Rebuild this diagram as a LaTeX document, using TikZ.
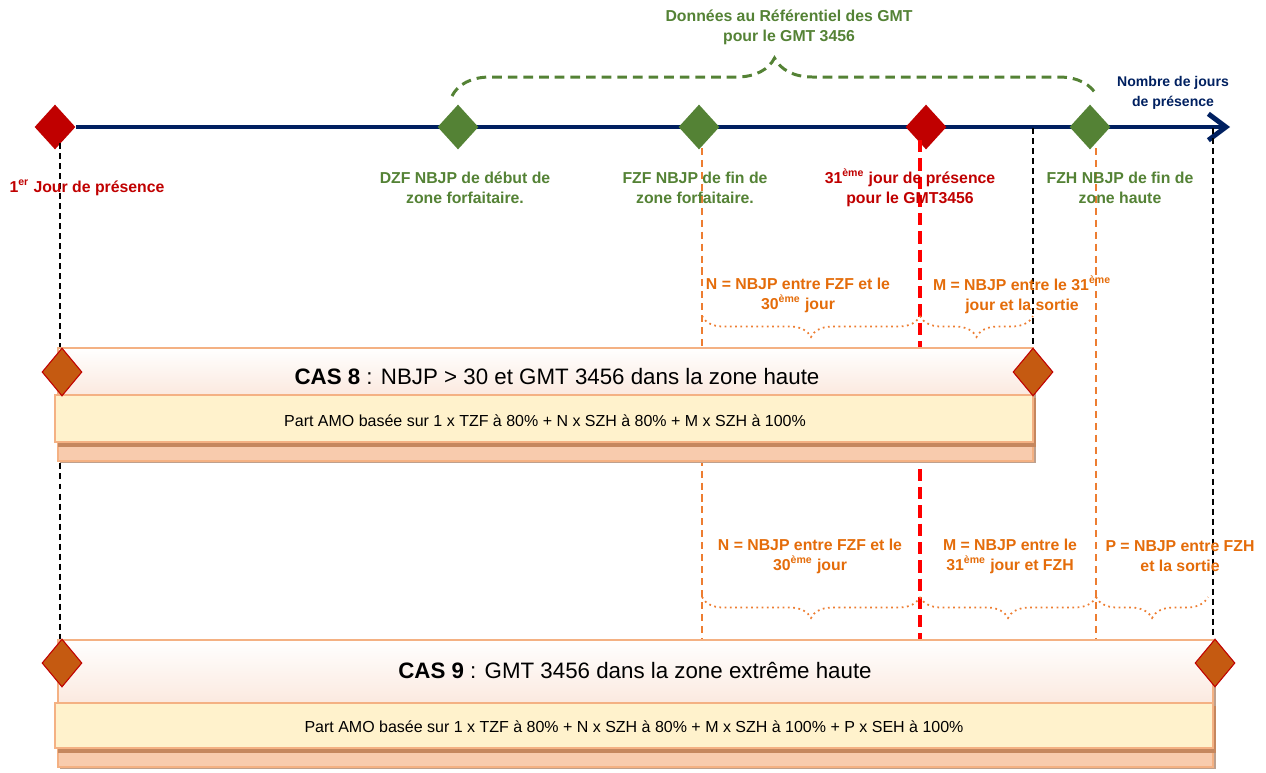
\documentclass[tikz,border=0pt]{standalone}
\usepackage{fontspec}
\setmainfont{Liberation Sans}
\usetikzlibrary{arrows.meta,shapes.geometric,decorations.pathreplacing,positioning,calc}
\definecolor{navy}{HTML}{002060}
\definecolor{jred}{HTML}{C00000}
\definecolor{jgreen}{HTML}{548235}
\definecolor{orangetxt}{HTML}{E46C0A}
\definecolor{orangeline}{HTML}{ED7D31}
\definecolor{casbord}{HTML}{F4B183}
\definecolor{casjaune}{HTML}{FFF2CC}
\definecolor{caspeche}{HTML}{F8CBAD}
\definecolor{casbrun}{HTML}{C5875E}
\definecolor{casombre}{HTML}{BFA08C}
\definecolor{casclair}{HTML}{FBE9DF}
\definecolor{casdiam}{HTML}{C55A11}
\tikzset{
  jalon/.style={diamond, inner sep=0pt, minimum width=0.82cm, minimum height=0.9cm},
  jrouge/.style={jalon, fill=jred},
  jvert/.style={jalon, fill=jgreen},
  jcas/.style={diamond, inner sep=0pt, minimum width=0.8cm, minimum height=0.96cm,
    fill=casdiam, draw=jred, line width=0.6pt},
  lbl/.style={font=\bfseries\fontsize{9}{11.3}\selectfont, align=center},
  castitre/.style={font=\fontsize{12.7}{14}\selectfont},
  casdetail/.style={font=\fontsize{9.1}{10}\selectfont},
  vnoir/.style={black, line width=1.1pt, dash pattern=on 3.4pt off 2.3pt},
  vorange/.style={orangeline, line width=1pt, dash pattern=on 4pt off 2.8pt},
  vrouge/.style={red, line width=1.8pt, dash pattern=on 7pt off 3.4pt},
  accol/.style={decorate, decoration={brace, mirror, amplitude=0.42cm},
    orangeline, dotted, line width=1pt},
}

\begin{document}
\begin{tikzpicture}[x=0.02cm, y=-0.02cm]
  \useasboundingbox (0,0) rectangle (1266,772);
  % axe des jours
  \node[jrouge] (d1) at (55,127) {};
  \coordinate (axend) at (1230,127);
  \draw[navy, line width=2.8pt, -{Straight Barb[length=10pt, width=15pt]}]
    (d1.east) -- (axend);
  \node[jvert] (dzf) at (458,127) {};
  \node[jvert] (fzf) at (699,127) {};
  \node[jrouge] (j31) at (926,127) {};
  \node[jvert] (fzh) at (1090,127) {};
  % reperes verticaux
  \foreach \x/\ya/\yb/\st in {60/143/640/vnoir, 702/148/640/vorange,
      920/140/640/vrouge, 1033/128/348/vnoir, 1096/148/640/vorange,
      1213/128/640/vnoir}
    \draw[\st] (\x,\ya) -- (\x,\yb);
  % accolade du referentiel
  \coordinate (gmtg) at (452,96);
  \coordinate (gmtd) at (1097,96);
  \draw[jgreen, line width=1.7pt, dash pattern=on 5.5pt off 3.4pt, decorate,
    decoration={brace, amplitude=0.76cm}] (gmtg) -- (gmtd);
  \node[lbl, text=jgreen] (lgmt) at (789,27) {Données au Référentiel des GMT\\pour le GMT 3456};
  \node[lbl, text=navy, font=\bfseries\fontsize{8}{11.3}\selectfont] (laxe) at (1173,93) {Nombre de jours\\de présence};
  % libelles des jalons
  \node[lbl, text=jred] (l1) at (87,188) {1\textsuperscript{er} Jour de présence};
  \node[lbl, text=jgreen] (ldzf) at (465,188) {DZF NBJP de début de\\zone forfaitaire.};
  \node[lbl, text=jgreen] (lfzf) at (695,188) {FZF NBJP de fin de\\zone forfaitaire.};
  \node[lbl, text=jred] (l31) at (910,188) {31\textsuperscript{ème} jour de présence\\pour le GMT3456};
  \node[lbl, text=jgreen] (lfzh) at (1120,188) {FZH NBJP de fin de\\zone haute};
  % intervalles
  \foreach \xa/\xb/\yy in {702/920/316, 920/1033/316, 702/920/597,
      920/1096/597, 1096/1208/597}
    \draw[accol] (\xa,\yy) -- (\xb,\yy);
  \node[lbl, text=orangetxt] (n1) at (798,295) {N = NBJP entre FZF et le\\30\textsuperscript{ème} jour};
  \node[lbl, text=orangetxt] (m1) at (1022,295) {M = NBJP entre le 31\textsuperscript{ème}\\jour et la sortie};
  \node[lbl, text=orangetxt] (n2) at (810,556) {N = NBJP entre FZF et le\\30\textsuperscript{ème} jour};
  \node[lbl, text=orangetxt] (m2) at (1010,556) {M = NBJP entre le\\31\textsuperscript{ème} jour et FZH};
  \node[lbl, text=orangetxt] (p2) at (1180,556) {P = NBJP entre FZH\\et la sortie};
  % cadres des cas
  \foreach \xr/\yt/\yh/\yb in {1033/348/395/442, 1213/640/703/748} {
    \fill[casombre] (60,{\yt+3}) rectangle ({\xr+3},{\yb+21});
    \filldraw[fill=caspeche, draw=casbord, line width=1pt] (58,\yt) rectangle (\xr,{\yb+19});
    \shade[top color=white, bottom color=casclair] (58,\yt) rectangle (\xr,\yh);
    \draw[casbord, line width=1.2pt] (58,\yt) rectangle (\xr,\yh);
    \fill[casbrun] (58,{\yh+3}) rectangle ({\xr+3},{\yb+5});
    \filldraw[fill=casjaune, draw=casbord, line width=1.2pt] (55,\yh) rectangle (\xr,\yb);
  }
  \node[castitre] (titre8) at (557,377) {\textbf{CAS 8} : NBJP > 30 et GMT 3456 dans la zone haute};
  \node[casdetail] (detail8) at (545,421) {Part AMO basée sur 1 x TZF à 80\% + N x SZH à 80\% + M x SZH à 100\%};
  \node[castitre] (titre9) at (635,670) {\textbf{CAS 9} : GMT 3456 dans la zone extrême haute};
  \node[casdetail] (detail9) at (634,727) {Part AMO basée sur 1 x TZF à 80\% + N x SZH à 80\% + M x SZH à 100\% + P x SEH à 100\%};
  \node[jcas] (c8g) at (62,372) {};
  \node[jcas] (c8d) at (1033,372) {};
  \node[jcas] (c9g) at (62,663) {};
  \node[jcas] (c9d) at (1215,663) {};
\end{tikzpicture}
\end{document}
